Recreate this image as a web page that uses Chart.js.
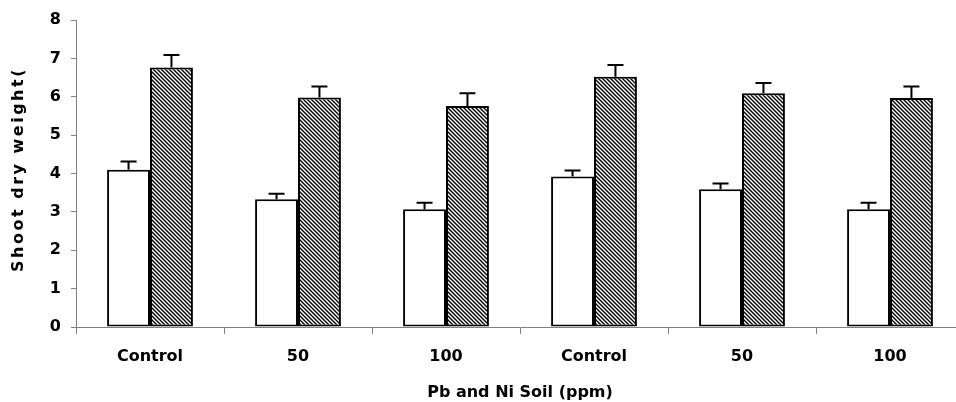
<!DOCTYPE html>
<html>
<head>
<meta charset="utf-8">
<script src="https://cdn.jsdelivr.net/npm/chart.js@4"></script>
<style>
html,body{margin:0;padding:0;background:#fff;overflow:hidden;}
#wrap{width:964px;height:402px;position:relative;}
</style>
</head>
<body>
<div id="wrap"><canvas id="c"></canvas></div>
<script>
const categories = ['Control', '50', '100', 'Control', '50', '100'];
const whiteValues = [4.10, 3.33, 3.07, 3.92, 3.59, 3.07];
const whiteErrors = [0.21, 0.14, 0.17, 0.16, 0.15, 0.17];
const hatchValues = [6.76, 5.98, 5.76, 6.52, 6.09, 5.97];
const hatchErrors = [0.33, 0.29, 0.33, 0.31, 0.27, 0.30];
const yTicks = [0, 1, 2, 3, 4, 5, 6, 7, 8];
const yTitle = 'Shoot dry weight(';
const xTitle = 'Pb and Ni Soil (ppm)';

const FONT = 'DejaVu Sans';
const canvas = document.getElementById('c');
const ctx0 = canvas.getContext('2d');

function makeHatch() {
  const t = document.createElement('canvas');
  t.width = 4; t.height = 4;
  const g = t.getContext('2d');
  g.fillStyle = '#fff';
  g.fillRect(0, 0, 4, 4);
  g.strokeStyle = '#000';
  g.lineWidth = 1.4;
  g.beginPath();
  g.moveTo(-1, -1); g.lineTo(5, 5);
  g.moveTo(3, -1); g.lineTo(5, 1);
  g.moveTo(-1, 3); g.lineTo(1, 5);
  g.stroke();
  return ctx0.createPattern(t, 'repeat');
}

const errorBars = {
  id: 'errorBars',
  afterDatasetsDraw(chart) {
    const ctx = chart.ctx;
    const ys = chart.scales.y;
    const errs = [whiteErrors, hatchErrors];
    ctx.save();
    ctx.strokeStyle = '#000';
    ctx.lineWidth = 2;
    chart.data.datasets.forEach((ds, i) => {
      const meta = chart.getDatasetMeta(i);
      meta.data.forEach((bar, j) => {
        const v = ds.data[j];
        const top = ys.getPixelForValue(v);
        const e = ys.getPixelForValue(v + errs[i][j]);
        ctx.beginPath();
        ctx.moveTo(bar.x, top);
        ctx.lineTo(bar.x, e);
        ctx.moveTo(bar.x - 8, e);
        ctx.lineTo(bar.x + 8, e);
        ctx.stroke();
      });
    });
    ctx.restore();
  }
};

const yTitlePlugin = {
  id: 'yTitlePlugin',
  afterDraw(chart) {
    const ctx = chart.ctx;
    const a = chart.chartArea;
    ctx.save();
    ctx.translate(19, (a.top + a.bottom) / 2 - 4);
    ctx.rotate(-Math.PI / 2);
    ctx.font = 'bold 16px "' + FONT + '"';
    ctx.fillStyle = '#000';
    ctx.textAlign = 'center';
    ctx.textBaseline = 'middle';
    try { ctx.letterSpacing = '2.5px'; } catch (e) {}
    ctx.fillText(yTitle, 0, 0);
    ctx.restore();
  }
};

new Chart(canvas, {
  type: 'bar',
  data: {
    labels: categories,
    datasets: [
      {
        data: whiteValues,
        backgroundColor: '#ffffff',
        borderColor: '#000000',
        borderWidth: 2,
        borderSkipped: false,
        categoryPercentage: 0.58,
        barPercentage: 1.0
      },
      {
        data: hatchValues,
        backgroundColor: makeHatch(),
        borderColor: '#000000',
        borderWidth: 2,
        borderSkipped: false,
        categoryPercentage: 0.58,
        barPercentage: 1.0
      }
    ]
  },
  options: {
    responsive: true,
    maintainAspectRatio: false,
    animation: false,
    events: [],
    layout: { padding: { top: 20, left: 0, right: 0, bottom: 0 } },
    plugins: {
      legend: { display: false },
      tooltip: { enabled: false },
      title: { display: false }
    },
    scales: {
      x: {
        grid: {
          display: true,
          drawOnChartArea: false,
          drawTicks: true,
          tickLength: 7,
          offset: true,
          color: '#808080',
          lineWidth: 1
        },
        border: { display: true, color: '#808080', width: 1 },
        ticks: {
          color: '#000',
          font: { family: FONT, size: 16, weight: 'bold' },
          padding: 13,
          maxRotation: 0,
          autoSkip: false
        },
        title: {
          display: true,
          text: xTitle,
          color: '#000',
          font: { family: FONT, size: 16, weight: 'bold' },
          padding: { top: 6, bottom: 0 }
        },
        afterFit(scale) { scale.height = 75; }
      },
      y: {
        min: 0,
        max: 8,
        afterBuildTicks(scale) { scale.ticks = yTicks.map(v => ({ value: v })); },
        grid: {
          display: true,
          drawOnChartArea: false,
          drawTicks: true,
          tickLength: 5,
          color: '#808080',
          lineWidth: 1
        },
        border: { display: true, color: '#808080', width: 1 },
        ticks: {
          color: '#000',
          font: { family: FONT, size: 16, weight: 'bold' },
          padding: 10
        },
        afterFit(scale) { scale.width = 76; }
      }
    }
  },
  plugins: [errorBars, yTitlePlugin]
});
</script>
</body>
</html>
